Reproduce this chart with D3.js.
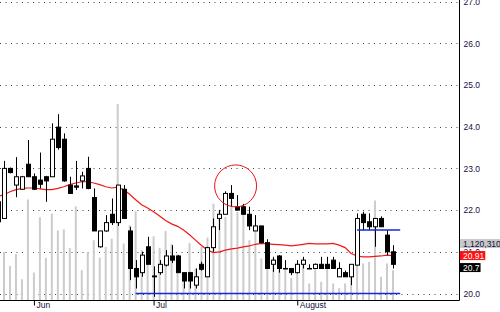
<!DOCTYPE html>
<html>
<head>
<meta charset="utf-8">
<script src="https://cdn.jsdelivr.net/npm/d3@7"></script>
<style>
  body { margin: 0; background: #fff; }
  svg { display: block; font-family: "Liberation Sans", Arial, sans-serif; }
</style>
</head>
<body>
<div id="chart"></div>
<script>
// One entry per session. The first session is cut off by the left edge.
var opens  = [22.2, 21.8, 23.0, 22.6, 22.5, 23.1, 22.8, 22.72, 22.8, 22.8, 23.99,
              23.7, 22.6, 22.58, 22.7, 23.0, 22.3, 21.12, 21.5, 21.9, 21.7,
              22.5, 21.5, 20.6, 20.5, 21.12, 20.42, 20.5, 20.68, 20.9, 20.9,
              20.5, 20.5, 20.2, 20.7, 20.4, 21.1, 21.8, 21.9, 22.4, 22.08,
              22.08, 21.9, 21.5, 21.62, 21.22, 20.7, 20.9, 20.6, 20.6, 20.5,
              20.7, 20.6, 20.6, 20.7, 20.7, 20.8, 20.4, 20.5, 20.4, 20.68,
              21.9, 21.72, 21.6, 21.8, 21.4, 21.0];
var highs  = [22.25, 23.18, 23.02, 23.27, 22.82, 23.68, 22.88, 23.38, 22.82, 24.08, 24.3,
              23.84, 22.8, 23.18, 22.92, 23.28, 22.52, 21.5, 21.88, 22.28, 22.6,
              22.6, 21.6, 20.8, 21.0, 21.36, 20.65, 20.8, 21.04, 21.16, 20.92,
              20.5, 20.52, 20.6, 20.76, 21.12, 21.8, 22.0, 22.45, 22.6, 22.36,
              22.15, 22.08, 21.88, 21.62, 21.3, 20.88, 20.92, 20.8, 20.6, 20.8,
              20.88, 20.7, 20.72, 20.88, 20.88, 20.88, 20.75, 20.55, 20.7, 21.92,
              21.96, 21.92, 21.8, 21.85, 21.52, 21.16];
var lows   = [21.7, 21.8, 22.88, 22.31, 22.48, 22.8, 22.48, 22.52, 22.2, 22.8, 23.45,
              22.68, 22.4, 22.48, 22.52, 22.5, 21.5, 21.1, 21.48, 21.64, 21.62,
              21.8, 20.32, 20.12, 20.4, 20.7, 19.92, 20.45, 20.65, 20.73, 20.5,
              20.12, 20.12, 20.12, 20.55, 20.4, 21.0, 21.52, 21.9, 22.08, 22.0,
              21.9, 21.52, 21.5, 21.2, 20.6, 20.52, 20.5, 20.6, 20.44, 20.48,
              20.6, 20.6, 20.6, 20.6, 20.6, 20.6, 20.4, 20.4, 20.2, 20.68,
              21.52, 21.52, 21.12, 21.6, 20.92, 20.6];
var closes = [21.72, 23.0, 22.9, 22.8, 22.8, 22.8, 22.5, 22.62, 22.7, 23.7, 23.5,
              22.7, 22.4, 22.55, 22.82, 22.52, 21.5, 21.5, 21.7, 21.7, 22.6,
              21.8, 20.6, 20.4, 20.92, 20.7, 20.4, 20.7, 20.9, 20.8, 20.5,
              20.3, 20.3, 20.4, 20.58, 21.1, 21.6, 21.9, 22.4, 22.28, 22.0,
              21.9, 21.62, 21.62, 21.22, 20.6, 20.8, 20.6, 20.6, 20.5, 20.7,
              20.8, 20.6, 20.7, 20.6, 20.6, 20.6, 20.6, 20.4, 20.7, 21.8,
              21.7, 21.6, 21.8, 21.6, 21.0, 20.7];
var volumes = [2000000, 1800000, 1280000, 1720000, 780000, 3770000, 1030000, 3100000, 1580000, 3240000, 2610000,
               2650000, 1950000, 3510000, 1120000, 1800000, 2240000, 1590000, 1990000, 2300000, 7350000,
               2120000, 2800000, 3320000, 1870000, 1870000, 2390000, 1960000, 2590000, 2090000, 1720000,
               1020000, 2140000, 1180000, 1990000, 2340000, 3610000, 3390000, 3110000, 3730000, 3300000,
               3550000, 2240000, 2610000, 1560000, 1560000, 1560000, 1560000, 1180000, 830000, 1020000,
               1370000, 620000, 1180000, 680000, 1240000, 620000, 440000, 620000, 1180000, 1620000,
               1370000, 1430000, 3730000, 870000, 1370000, 1120310];
// moving average (red line)
var maValues = [22.33, 22.37, 22.44, 22.49, 22.52, 22.53, 22.53, 22.51, 22.49, 22.49, 22.52,
                22.56, 22.61, 22.65, 22.68, 22.68, 22.65, 22.61, 22.56, 22.53, 22.55,
                22.49, 22.38, 22.25, 22.13, 22.05, 21.96, 21.86, 21.75, 21.67, 21.61,
                21.52, 21.41, 21.28, 21.15, 21.04, 20.98, 21.0, 21.04, 21.07, 21.09,
                21.12, 21.14, 21.18, 21.2, 21.19, 21.18, 21.17, 21.16, 21.14, 21.16,
                21.18, 21.2, 21.19, 21.19, 21.19, 21.2, 21.16, 21.1, 20.96, 20.9,
                20.88, 20.88, 20.89, 20.9, 20.92, 20.91];

var priceTicks  = [20, 21, 22, 23, 24, 25, 26, 27];
var monthNames  = ["Jun", "Jul", "August"];
var monthStarts = [6, 26, 50];

// blue markers: from session, to session, price level
var markFrom  = [23, 60];
var markTo    = [67.2, 67.2];
var markPrice = [20.0, 21.52];
// red ring around the July top
var ringSession = 39.7, ringPrice = 22.58;

var width = 500, height = 312;
var plotW = 459, plotH = 300;
var n = closes.length;

var svg = d3.select("#chart")
  .append("svg")
    .attr("width", width)
    .attr("height", height);

var x = d3.scaleLinear().domain([0, n - 1]).range([-2, 393]);
var y = d3.scaleLinear().domain([20, 27]).range([293.5, 1.6]);
var yVol = d3.scaleLinear().domain([0, 7500000]).range([plotH, 100]);

svg.append("clipPath").attr("id", "plotclip")
  .append("rect").attr("width", plotW).attr("height", plotH);

var plot = svg.append("g").attr("clip-path", "url(#plotclip)");

// dotted grid
plot.selectAll("line.grid")
  .data(priceTicks)
  .enter().append("line")
    .attr("class", "grid")
    .attr("x1", 0).attr("x2", plotW - 1)
    .attr("y1", function(d) { return Math.round(y(d)) + 0.5; })
    .attr("y2", function(d) { return Math.round(y(d)) + 0.5; })
    .attr("stroke", "#444")
    .attr("stroke-dasharray", "1,4.5");

// volume bars
plot.selectAll("line.vol")
  .data(volumes)
  .enter().append("line")
    .attr("class", "vol")
    .attr("x1", function(d, i) { return x(i); })
    .attr("x2", function(d, i) { return x(i); })
    .attr("y1", plotH)
    .attr("y2", function(d) { return yVol(d); })
    .attr("stroke", "#cccccc")
    .attr("stroke-width", 2);

// moving average
plot.append("path")
  .datum(maValues)
  .attr("fill", "none")
  .attr("stroke", "#f01818")
  .attr("stroke-width", 1.2)
  .attr("d", d3.line()
    .x(function(d, i) { return x(i); })
    .y(function(d) { return y(d); }));

// candles
var candle = plot.selectAll("g.candle")
  .data(closes)
  .enter().append("g")
    .attr("class", "candle");

candle.append("line")
  .attr("x1", function(d, i) { return Math.round(x(i)) + 0.5; })
  .attr("x2", function(d, i) { return Math.round(x(i)) + 0.5; })
  .attr("y1", function(d, i) { return y(highs[i]); })
  .attr("y2", function(d, i) { return y(lows[i]); })
  .attr("stroke", "#000");

candle.append("rect")
  .attr("x", function(d, i) { return Math.round(x(i)) - 1.5; })
  .attr("y", function(d, i) { return y(Math.max(opens[i], d)); })
  .attr("width", 4)
  .attr("height", function(d, i) {
    return Math.max(0.5, y(Math.min(opens[i], d)) - y(Math.max(opens[i], d)));
  })
  .attr("fill", function(d, i) { return d > opens[i] ? "#fff" : "#000"; })
  .attr("stroke", "#000");

// blue markers
plot.selectAll("line.mark")
  .data(markPrice)
  .enter().append("line")
    .attr("class", "mark")
    .attr("x1", function(d, i) { return x(markFrom[i]); })
    .attr("x2", function(d, i) { return x(markTo[i]); })
    .attr("y1", function(d) { return y(d); })
    .attr("y2", function(d) { return y(d); })
    .attr("stroke", "#1428d8")
    .attr("stroke-width", 1.5);

plot.append("circle")
  .attr("cx", x(ringSession))
  .attr("cy", y(ringPrice))
  .attr("r", 21)
  .attr("fill", "none")
  .attr("stroke", "#e8141c");

// frame
svg.append("path")
  .attr("d", "M" + (plotW + 0.5) + ",0V" + (plotH + 0.5) + "H0")
  .attr("fill", "none")
  .attr("stroke", "#000");

// price axis
var yAxis = svg.append("g")
  .attr("transform", "translate(" + (plotW + 0.5) + ",0)")
  .call(d3.axisRight(y).tickValues(priceTicks).tickSize(0).tickPadding(4)
    .tickFormat(d3.format(".1f")));
yAxis.select(".domain").remove();
yAxis.selectAll("text")
  .attr("fill", "#101040")
  .style("font-size", "8.5px")
  .style("font-family", "'Liberation Sans', Arial, sans-serif");

// month axis
var xAxis = svg.append("g")
  .attr("transform", "translate(0," + (plotH + 0.5) + ")")
  .call(d3.axisBottom(x).tickValues(monthStarts).tickSize(5).tickPadding(0)
    .tickFormat(function(d, i) { return monthNames[i]; }));
xAxis.select(".domain").remove();
xAxis.selectAll("line").attr("stroke", "#000");
xAxis.selectAll("text")
  .attr("fill", "#101040")
  .attr("text-anchor", "start")
  .attr("x", 2)
  .attr("y", 1)
  .attr("dy", "0.71em")
  .style("font-size", "8.5px")
  .style("font-family", "'Liberation Sans', Arial, sans-serif");

// last-value tags on the right
function tag(text, cy, bg, fg) {
  var g = svg.append("g");
  var r = g.append("rect").attr("fill", bg);
  var t = g.append("text")
    .attr("x", plotW + 4)
    .attr("y", cy)
    .attr("dy", "0.35em")
    .attr("fill", fg)
    .style("font-size", "8.5px")
    .text(text);
  var w = t.node().getComputedTextLength();
  r.attr("x", plotW + 1).attr("y", cy - 4.5)
    .attr("width", w + 4).attr("height", 9);
}

// stack the tags so they do not run into each other
var maTagY = y(maValues[n - 1]);
var closeTagY = Math.max(y(closes[n - 1]), maTagY + 12);
var volTagY = maTagY - 12;

tag(d3.format(",")(volumes[n - 1]), volTagY, "#c8c8c8", "#101040");
tag(d3.format(".2f")(maValues[n - 1]), maTagY, "#ff1010", "#fff");
tag(String(closes[n - 1]), closeTagY, "#000", "#fff");
</script>
</body>
</html>
